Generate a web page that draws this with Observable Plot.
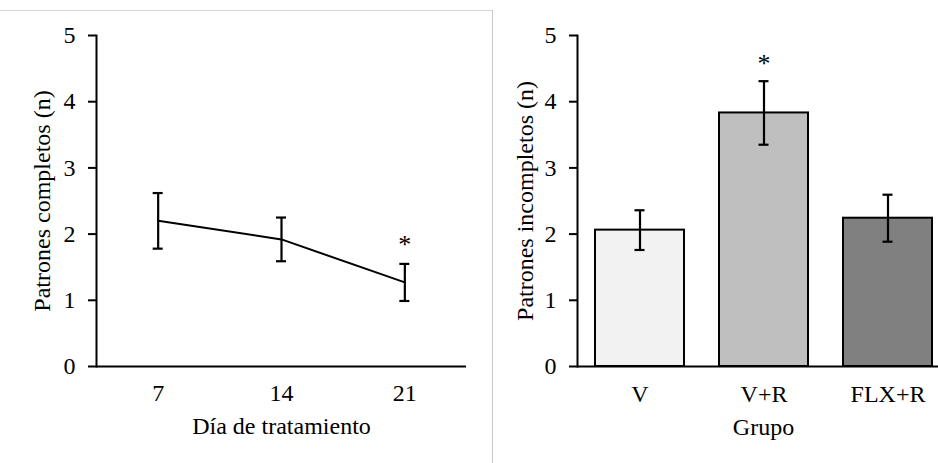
<!DOCTYPE html>
<html><head><meta charset="utf-8">
<script src="https://cdn.jsdelivr.net/npm/d3@7"></script>
<script src="https://cdn.jsdelivr.net/npm/@observablehq/plot@0.6"></script>
<style>
html,body{margin:0;padding:0;background:#fff;}
body{overflow:hidden;width:938px;height:463px;position:relative;font-family:"Liberation Serif","Times New Roman",serif;}
#left{position:absolute;left:0;top:0;width:470px;}
#right{position:absolute;left:470px;top:0;width:479px;}
#frame{position:absolute;left:0;top:10px;width:493px;height:470px;border-top:1px solid #d6d6d6;border-right:1px solid #c8c8c8;box-sizing:border-box;z-index:3;pointer-events:none;}
</style></head><body>
<div id="left"></div><div id="right"></div><div id="frame"></div>
<script>
// Left panel: complete patterns by treatment day
const days = [7, 14, 21];
const completeMean = [2.2, 1.92, 1.27];
const completeErr = [0.42, 0.33, 0.28];
const completeSig = ["", "", "*"];
// Right panel: incomplete patterns by group
const groups = ["V", "V+R", "FLX+R"];
const incompleteMean = [2.06, 3.83, 2.24];
const incompleteErr = [0.30, 0.48, 0.355];
const incompleteSig = ["", "*", ""];
const yTicks = [0, 1, 2, 3, 4, 5];
const barColors = ["#f2f2f2", "#bfbfbf", "#808080"];

const leftData = days.map((d, i) => ({day: d, mean: completeMean[i], err: completeErr[i], sig: completeSig[i]}));
const rightData = groups.map((g, i) => ({group: g, mean: incompleteMean[i], err: incompleteErr[i], sig: incompleteSig[i]}));

const font = "Liberation Serif, Times New Roman, serif";
const FS = 24;
const baseStyle = {fontFamily: font, fontSize: FS + "px", color: "#000", background: "transparent", maxWidth: "none", overflow: "visible"};
const lo = d => d.mean - d.err, hi = d => d.mean + d.err;

const left = Plot.plot({
  width: 470, height: 463,
  marginTop: 35, marginBottom: 97, marginLeft: 96, marginRight: 4,
  style: baseStyle,
  x: {domain: [3.5, 24.5]},
  y: {domain: [0, 5]},
  marks: [
    Plot.axisY(yTicks, {tickSize: 8, tickPadding: 13, strokeWidth: 2, label: null, tickFormat: d => d, fontSize: FS}),
    Plot.axisX(days, {tickSize: 0, tickPadding: 17, label: null, tickFormat: d => d, fontSize: FS}),
    Plot.frame({anchor: "left", strokeWidth: 2}),
    Plot.ruleY([0], {strokeWidth: 2}),
    Plot.line(leftData, {x: "day", y: "mean", stroke: "#000", strokeWidth: 2}),
    Plot.ruleX(leftData, {x: "day", y1: lo, y2: hi, strokeWidth: 2.2}),
    Plot.ruleY(leftData, {x1: "day", x2: "day", y: hi, insetLeft: -5, insetRight: -5, strokeWidth: 2.2}),
    Plot.ruleY(leftData, {x1: "day", x2: "day", y: lo, insetLeft: -5, insetRight: -5, strokeWidth: 2.2}),
    Plot.text(leftData, {x: "day", y: hi, text: "sig", dy: -19, fontSize: 26}),
    Plot.text(["Patrones completos (n)"], {frameAnchor: "left", textAnchor: "middle", rotate: -90, dx: -54, text: d => d, fontSize: FS}),
    Plot.text(["Día de tratamiento"], {frameAnchor: "bottom", textAnchor: "middle", dy: 67, text: d => d, fontSize: FS})
  ]
});
document.getElementById("left").append(left);

const right = Plot.plot({
  width: 479, height: 463,
  marginTop: 35, marginBottom: 97, marginLeft: 107, marginRight: 0,
  style: baseStyle,
  x: {domain: groups, paddingInner: 0.286, paddingOuter: 0.143},
  y: {domain: [0, 5]},
  color: {domain: groups, range: barColors},
  marks: [
    Plot.barY(rightData, {x: "group", y: "mean", fill: "group", stroke: "#000", strokeWidth: 2}),
    Plot.axisY(yTicks, {tickSize: 8, tickPadding: 13, strokeWidth: 2, label: null, tickFormat: d => d, fontSize: FS}),
    Plot.axisX(groups, {tickSize: 0, tickPadding: 18, label: null, fontSize: FS}),
    Plot.frame({anchor: "left", strokeWidth: 2}),
    Plot.ruleY([0], {strokeWidth: 2}),
    Plot.ruleX(rightData, {x: "group", y1: lo, y2: hi, strokeWidth: 2.2}),
    Plot.tickY(rightData, {x: "group", y: hi, insetLeft: 39.5, insetRight: 39.5, strokeWidth: 2.2}),
    Plot.tickY(rightData, {x: "group", y: lo, insetLeft: 39.5, insetRight: 39.5, strokeWidth: 2.2}),
    Plot.text(rightData, {x: "group", y: hi, text: "sig", dy: -18, fontSize: 26}),
    Plot.text(["Patrones incompletos (n)"], {frameAnchor: "left", textAnchor: "middle", rotate: -90, dx: -52, text: d => d, fontSize: FS}),
    Plot.text(["Grupo"], {frameAnchor: "bottom", textAnchor: "middle", dy: 68, text: d => d, fontSize: FS})
  ]
});
document.getElementById("right").append(right);
</script>
</body></html>
